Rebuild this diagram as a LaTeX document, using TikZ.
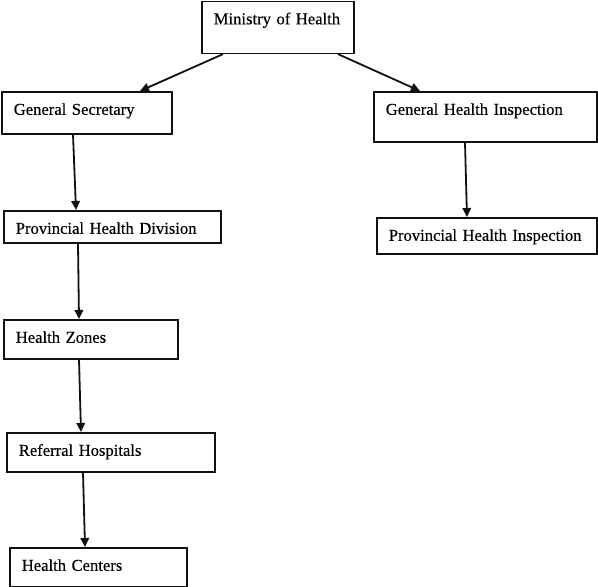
\documentclass[tikz,border=0pt]{standalone}
\usepackage{fontspec}
\setmainfont{Liberation Serif}[FakeBold=0.35]
\usepackage{xcolor}
\usepackage{tikz}
\usetikzlibrary{arrows.meta,positioning}
\definecolor{linegray}{HTML}{111111}
\tikzset{
  unit/.style={draw=linegray, line width=1.6pt, anchor=north west, align=left, inner xsep=12pt, inner ysep=0pt, text height=23pt, font=\fontsize{16.6}{20}\selectfont},
  arrow/.style={-{Triangle[length=9pt, width=8.5pt]}, line width=1.8pt, draw=linegray}
}
\begin{document}
\begin{tikzpicture}[x=1pt, y=-1pt]
  \useasboundingbox (0,0) rectangle (598,587);

  \node[unit, text width=128pt, text depth=29pt] (ministry) at (201,0.5) {Ministry of Health};

  \node[unit, text width=146pt, text depth=19pt] (secretary) at (1,91) {General Secretary};
  \node[unit, text width=193pt, text depth=9pt] (provdiv) at (3,210) {Provincial Health Division};
  \node[unit, text width=150pt, text depth=16pt] (zones) at (3,319) {Health Zones};
  \node[unit, text width=184pt, text depth=16pt] (referral) at (6,432) {Referral Hospitals};
  \node[unit, text width=153pt, text depth=16pt] (centers) at (9,547) {Health Centers};

  \node[unit, text width=199pt, text depth=27pt] (inspection) at (373,91) {General Health Inspection};
  \node[unit, text width=196pt, text depth=13pt] (provinsp) at (376,217) {Provincial Health Inspection};

  \draw[arrow] ([xshift=22pt]ministry.south west) -- ([xshift=139pt]secretary.north west);
  \draw[arrow] ([xshift=137pt]ministry.south west) -- ([xshift=47pt]inspection.north west);
  \draw[arrow] ([xshift=72pt]secretary.south west) -- ([xshift=73pt]provdiv.north west);
  \draw[arrow] ([xshift=92pt]inspection.south west) -- ([xshift=91pt]provinsp.north west);
  \draw[arrow] ([xshift=75pt]provdiv.south west) -- ([xshift=76pt]zones.north west);
  \draw[arrow] ([xshift=76pt]zones.south west) -- ([xshift=75pt]referral.north west);
  \draw[arrow] ([xshift=77pt]referral.south west) -- ([xshift=76pt]centers.north west);
\end{tikzpicture}
\end{document}
